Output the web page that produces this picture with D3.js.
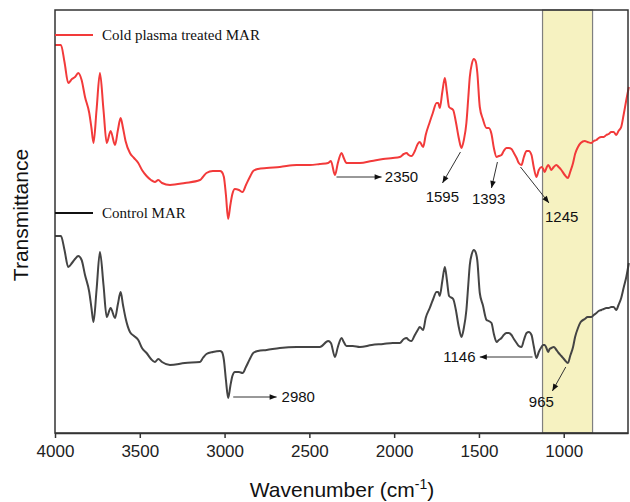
<!DOCTYPE html>
<html>
<head>
<meta charset="utf-8">
<script src="https://cdn.jsdelivr.net/npm/d3@7"></script>
<style>
  html, body { margin: 0; background: #fff; overflow: hidden; }
  svg { display: block; }
  .tick text { font-family: "Liberation Sans", Arial, sans-serif; font-size: 17px; fill: #222; }
</style>
</head>
<body>
<div id="chart"></div>
<script>

// wavenumbers (cm-1) sampled along the spectra
var wavenumber = [4000,3965,3944,3922,3900,3882,3863,3843,3823,3798,3785,3773,3755,3735,3714,3695,3672,3646,3629,3613,3599,3584,3558,3534,3509,3487,3460,3434,3411,3391,3369,3322,3234,3145,3128,3107,3069,3027,3016,3004,2992,2979,2966,2954,2939,2915,2894,2874,2851,2831,2803,2752,2674,2575,2497,2438,2389,2373,2349,2332,2310,2297,2281,2244,2202,2132,2065,2008,1967,1943,1927,1914,1898,1878,1861,1849,1829,1814,1790,1772,1750,1740,1731,1716,1701,1689,1676,1652,1636,1619,1603,1589,1574,1563,1554,1542,1530,1518,1510,1495,1477,1455,1442,1426,1412,1396,1383,1367,1354,1338,1324,1308,1294,1278,1265,1249,1235,1219,1206,1190,1177,1161,1147,1131,1121,1112,1102,1092,1083,1073,1059,1043,1030,1014,994,975,962,945,933,916,900,876,859,837,823,807,794,778,764,749,735,720,706,690,677,661,647,631,616];

// cold plasma treated MAR (transmittance, a.u., offset)
var plasmaMAR = [38.8,38.8,37.1,35.0,35.4,35.6,36.0,35.3,33.6,32.0,30.5,29.0,32.3,36.0,32.3,29.0,30.2,28.8,30.3,31.5,30.5,29.2,28.0,27.5,27.0,26.3,25.7,25.3,25.1,25.3,25.0,24.8,25.0,25.3,25.6,26.0,26.2,26.2,26.1,25.6,23.8,21.4,22.8,23.9,24.4,24.3,24.1,24.8,25.6,26.2,26.4,26.5,26.6,26.8,26.8,26.9,27.0,27.2,25.8,27.0,28.0,27.5,27.0,27.0,27.0,27.2,27.4,27.5,27.6,27.9,28.0,27.8,27.7,28.2,28.9,29.1,28.6,29.8,31.1,32.0,33.0,33.0,32.5,34.1,35.5,34.1,32.6,32.3,31.1,29.5,28.5,29.3,31.0,33.5,35.6,36.9,37.4,37.1,36.1,32.6,31.4,30.5,30.5,29.9,28.5,27.6,27.7,27.8,28.2,28.5,28.5,28.4,28.0,27.5,27.0,26.8,27.6,28.2,28.2,27.8,26.6,25.6,26.3,26.6,26.4,26.1,26.5,26.8,26.6,26.3,26.6,26.8,26.6,26.3,25.8,25.5,26.1,27.0,27.9,28.6,29.0,29.2,29.1,29.0,29.2,29.3,29.5,29.6,29.6,29.8,29.9,30.1,30.1,29.8,30.2,30.6,31.8,33.3,34.6];

// control MAR
var controlMAR = [19.7,19.7,18.3,16.6,17.0,17.4,17.7,17.3,15.8,14.1,12.5,11.1,14.3,18.1,14.8,11.6,12.5,11.5,12.9,14.1,12.8,11.5,10.1,9.7,9.3,8.5,8.0,7.4,7.1,7.4,7.1,6.8,7.0,7.1,7.5,7.9,8.1,8.2,8.1,7.3,5.3,3.5,4.7,5.7,6.1,6.1,6.0,6.6,7.4,8.0,8.2,8.3,8.5,8.6,8.6,8.6,9.2,9.0,7.6,8.6,9.5,9.1,8.7,8.7,8.6,8.8,8.9,9.0,9.0,9.4,9.5,9.3,9.2,9.8,10.3,10.6,10.3,11.5,12.5,13.3,14.1,14.1,13.7,15.2,16.6,15.3,13.7,13.4,12.3,10.6,9.6,10.5,12.3,14.8,16.8,17.9,18.3,18.0,17.3,14.0,12.8,11.3,11.2,11.0,9.9,9.1,9.3,9.5,9.8,10.0,10.0,9.8,9.4,9.0,8.7,8.6,9.3,10.0,10.1,9.8,8.7,7.5,8.1,8.6,8.8,8.8,8.5,8.1,8.4,8.5,8.6,8.3,8.0,7.7,7.3,7.0,7.7,8.6,9.6,10.5,11.1,11.4,11.6,11.6,11.8,12.0,12.2,12.3,12.4,12.5,12.5,12.6,12.6,12.3,12.8,13.5,14.5,15.6,17.0];

var seriesNames = ["Cold plasma treated MAR", "Control MAR"];
var xTicks = [4000, 3500, 3000, 2500, 2000, 1500, 1000];

// highlighted band (cm-1)
var band = [1125, 830];

// peak labels: text, arrow start [cm-1, a.u.], arrow tip, label anchor
var peakText = ["2350", "1595", "1393", "1245", "2980", "1146", "965"];
var peakFrom = [[2340,25.6],[1609,28.1],[1391,27.1],[1255,26.6],[2949,3.6],[1184,7.6],[988,6.6]];
var peakTo   = [[2074,25.6],[1715,25.0],[1426,24.5],[1087,23.0],[2693,3.6],[1495,7.6],[1067,4.2]];
var peakAt   = [[2055,25.6],[1716,23.6],[1443,23.4],[1012,21.6],[2664,3.6],[1520,7.6],[1132,3.1]];

function drawChart(){

    var width = 630,
        height = 502,
        margin = {top: 10, right: 2, bottom: 69, left: 55};

    var svg = d3.select('#chart')
        .append('svg')
        .attr('width', width)
        .attr('height', height);

    var x = d3.scaleLinear()
        .domain([4000, 621])
        .range([margin.left, width - margin.right]);

    var y = d3.scaleLinear()
        .domain([0, 42.3])
        .range([height - margin.bottom, margin.top]);

    //highlight band behind the spectra
    svg.append('rect')
        .attr('x', x(band[0]))
        .attr('y', margin.top)
        .attr('width', x(band[1]) - x(band[0]))
        .attr('height', y(0) - margin.top)
        .attr('fill', '#f6f2c1')
        .attr('stroke', '#7f7f7f')
        .attr('stroke-width', 1.2);

    var line = d3.line()
        .x(function(d){ return x(d[0]); })
        .y(function(d){ return y(d[1]); })
        .curve(d3.curveMonotoneX);

    var colors = ['#f23a3a', '#444444'];
    [plasmaMAR, controlMAR].forEach(function(vals, i){
        svg.append('path')
            .datum(d3.zip(wavenumber, vals))
            .attr('fill', 'none')
            .attr('stroke', colors[i])
            .attr('stroke-width', 2)
            .attr('stroke-linejoin', 'round')
            .attr('d', line);
    });

    //frame
    svg.append('rect')
        .attr('x', margin.left)
        .attr('y', margin.top)
        .attr('width', x.range()[1] - margin.left)
        .attr('height', y(0) - margin.top)
        .attr('fill', 'none')
        .attr('stroke', '#333')
        .attr('stroke-width', 1.5);

    //x axis
    var xAxis = svg.append('g')
        .attr('transform', 'translate(0,' + y(0) + ')')
        .call(d3.axisBottom(x).tickValues(xTicks).tickFormat(d3.format('d'))
            .tickSize(5).tickPadding(7).tickSizeOuter(0));
    xAxis.select('.domain').attr('stroke', '#333').attr('stroke-width', 1.5);
    xAxis.selectAll('.tick line').attr('stroke', '#333').attr('stroke-width', 1.5);

    //axis titles
    var xt = svg.append('text')
        .attr('x', 342)
        .attr('y', 497)
        .attr('text-anchor', 'middle')
        .style('font-family', '"Liberation Sans", Arial, sans-serif')
        .style('font-size', '21px')
        .attr('fill', '#111');
    xt.append('tspan').text('Wavenumber (cm');
    xt.append('tspan').attr('dy', -8).style('font-size', '14px').text('-1');
    xt.append('tspan').attr('dy', 8).text(')');

    svg.append('text')
        .attr('transform', 'translate(28,' + 215 + ') rotate(-90)')
        .attr('text-anchor', 'middle')
        .style('font-family', '"Liberation Sans", Arial, sans-serif')
        .style('font-size', '21px')
        .attr('fill', '#111')
        .text('Transmittance');

    //legend entries
    var legendY = [y(39.8), y(22.0)];
    seriesNames.forEach(function(name, i){
        svg.append('line')
            .attr('x1', margin.left).attr('x2', margin.left + 38)
            .attr('y1', legendY[i]).attr('y2', legendY[i])
            .attr('stroke', i === 0 ? '#f23a3a' : '#111')
            .attr('stroke-width', 2);
        svg.append('text')
            .attr('x', margin.left + 47)
            .attr('y', legendY[i])
            .attr('dy', '0.32em')
            .style('font-family', '"Liberation Serif", "Times New Roman", serif')
            .style('font-size', '15px')
            .attr('fill', '#111')
            .text(name);
    });

    //arrow head
    svg.append('defs').append('marker')
        .attr('id', 'head')
        .attr('viewBox', '0 0 10 10')
        .attr('refX', 10).attr('refY', 5)
        .attr('markerUnits', 'userSpaceOnUse')
        .attr('markerWidth', 10).attr('markerHeight', 7)
        .attr('orient', 'auto')
        .append('path')
        .attr('d', 'M0,1 L10,5 L0,9 Z')
        .attr('fill', '#111');

    //peak annotations
    peakText.forEach(function(t, i){
        svg.append('line')
            .attr('x1', x(peakFrom[i][0])).attr('y1', y(peakFrom[i][1]))
            .attr('x2', x(peakTo[i][0])).attr('y2', y(peakTo[i][1]))
            .attr('stroke', '#333')
            .attr('stroke-width', 1)
            .attr('marker-end', 'url(#head)');
        var anchor = 'middle';
        if (t === '2350' || t === '2980') anchor = 'start';
        if (t === '1146') anchor = 'end';
        svg.append('text')
            .attr('x', x(peakAt[i][0]))
            .attr('y', y(peakAt[i][1]))
            .attr('dy', '0.35em')
            .attr('text-anchor', anchor)
            .style('font-family', '"Liberation Sans", Arial, sans-serif')
            .style('font-size', '15px')
            .attr('fill', '#111')
            .text(t);
    });
};

window.onload = drawChart();
</script>
</body>
</html>
